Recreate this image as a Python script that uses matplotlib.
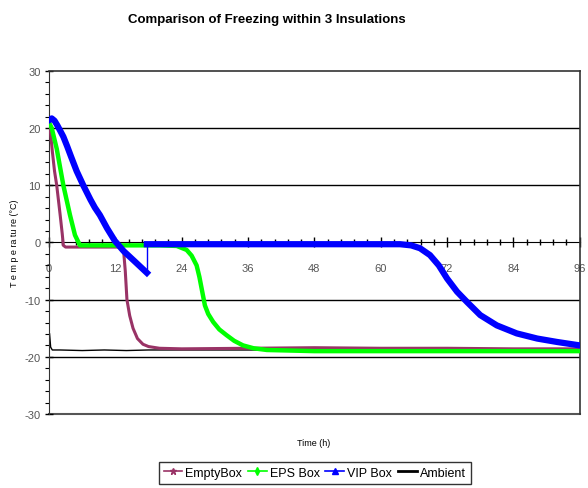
import matplotlib
matplotlib.use("Agg")
import matplotlib.pyplot as plt
from matplotlib.lines import Line2D
from matplotlib.ticker import MultipleLocator

plt.rcParams['font.family'] = ['Liberation Sans', 'DejaVu Sans']
plt.rcParams['axes.unicode_minus'] = False

# values (time in h, temperature in °C)
empty_t = [0, 0.2, 0.6, 1.0, 1.4, 2.0, 2.4, 2.6, 3.0, 6, 10, 13.0, 13.5, 13.8,
           14.1, 14.6, 15.2, 16.0, 17.0, 18.0, 20, 24, 36, 48, 60, 72, 84, 96]
empty_v = [20.5, 20, 16, 12.5, 10, 5, 1.5, -0.5, -0.8, -0.8, -0.8, -0.8, -1.5, -5,
           -10, -12.8, -15, -16.8, -17.8, -18.2, -18.5, -18.6, -18.5, -18.4, -18.5, -18.5, -18.6, -18.6]

eps_t = [0, 0.5, 1.4, 2.6, 3.8, 4.7, 5.6, 8, 12, 16, 20, 23.1, 24.9, 25.8, 26.7, 27.2,
         27.6, 28.2, 28.8, 29.7, 30.8, 32.1, 33.5, 35.1, 37.0, 39.4, 48, 60, 72, 84, 96]
eps_v = [21, 20, 16.4, 10, 4.8, 1.3, -0.5, -0.5, -0.5, -0.5, -0.5, -0.6, -1.3, -2.3, -4, -6,
         -8, -11, -12.5, -13.9, -15.2, -16.2, -17.2, -18, -18.5, -18.8, -19, -19, -19, -19, -19]

vip_t = [0, 0.5, 1.0, 1.5, 2.0, 2.6, 3.3, 4.0, 5.0, 6.2, 7.5, 8.3, 9.2, 10.5, 11.9, 13.5, 15.5, 17.7,
         17.7, 24, 36, 48, 60, 63.5, 65.5, 67.1, 68.9, 70.5, 72.0, 73.8, 75.6, 78.0, 81.0,
         84.6, 88.3, 91.9, 96]
vip_v = [21.4, 21.7, 21.3, 20.5, 19.6, 18.5, 16.8, 15, 12.5, 10, 7.5, 6.1, 4.8, 2.5, 0.3, -1.5, -3.3, -5.3,
         -0.3, -0.3, -0.3, -0.3, -0.3, -0.3, -0.5, -1.0, -2.2, -4.0, -6.3, -8.6, -10.4, -12.7, -14.5,
         -15.9, -16.8, -17.4, -18.0]

amb_t = [0, 0.1, 0.3, 0.6, 2, 6, 10, 14, 18, 24, 48, 72, 96]
amb_v = [-18.5, -15.9, -18.3, -18.8, -18.8, -18.9, -18.8, -18.9, -18.8, -18.8, -18.8, -18.8, -18.8]

x_ticks = [0, 12, 24, 36, 48, 60, 72, 84, 96]
y_ticks = [-30, -20, -10, 0, 10, 20, 30]

fig = plt.figure(figsize=(5.88, 4.89), dpi=100)
ax = fig.add_axes([0.0833, 0.1513, 0.9027, 0.7015])

jump = 18  # index where the VIP curve jumps back to the freezing plateau
ax.plot(amb_t, amb_v, color='black', lw=1.0, zorder=2)
ax.plot(empty_t, empty_v, color='#993366', lw=2.2, zorder=3)
ax.plot(eps_t, eps_v, color='#00ff00', lw=3.2, zorder=4)
ax.plot(vip_t[:jump], vip_v[:jump], color='#0000ff', lw=4.5, zorder=5)
ax.plot(vip_t[jump - 1:jump + 1], vip_v[jump - 1:jump + 1], color='#0000ff', lw=1.0, zorder=5)
ax.plot(vip_t[jump:], vip_v[jump:], color='#0000ff', lw=4.5, zorder=5)

ax.set_xlim(0, 96)
ax.set_ylim(-30, 30)
ax.set_xticks(x_ticks)
ax.set_yticks(y_ticks)
ax.xaxis.set_minor_locator(MultipleLocator(2.4))
ax.yaxis.set_minor_locator(MultipleLocator(2))

for y in [-20, -10, 10, 20]:
    ax.axhline(y, color='black', lw=1.0, zorder=1)
ax.axhline(-30, color='#555555', lw=1.5, zorder=1, clip_on=False)

ax.spines['bottom'].set_position(('data', 0))
ax.spines['bottom'].set_zorder(1)
for s in ['top', 'right']:
    ax.spines[s].set_color('#333333')
    ax.spines[s].set_linewidth(1.2)
ax.spines['left'].set_color('#333333')

ax.tick_params(axis='x', which='major', direction='inout', length=7, width=1,
               pad=11, labelsize=8, labelcolor='#555555')
ax.tick_params(axis='x', which='minor', direction='inout', length=5, width=1)
ax.tick_params(axis='y', which='major', direction='inout', length=6, width=1,
               pad=3, labelsize=8, labelcolor='#555555')
ax.tick_params(axis='y', which='minor', direction='out', length=3, width=0.8)

ax.set_ylabel('T e m p e ra tu re (°C)', fontsize=6.5, labelpad=4)
fig.text(0.534, 0.094, 'Time (h)', ha='center', va='center', fontsize=6.5)
fig.text(0.453, 0.96, 'Comparison of Freezing within 3 Insulations',
         ha='center', va='center', fontsize=9.5, fontweight='bold')

handles = [
    Line2D([], [], color='#993366', lw=1.2, marker='*', markersize=5),
    Line2D([], [], color='#00ff00', lw=1.2, marker='d', markersize=4),
    Line2D([], [], color='#0000ff', lw=1.2, marker='^', markersize=4),
    Line2D([], [], color='black', lw=2),
]
labels = ['EmptyBox', 'EPS Box', 'VIP Box', 'Ambient']
leg = fig.legend(handles, labels, loc='upper center', bbox_to_anchor=(0.535, 0.054),
                 ncol=4, fontsize=9, frameon=True, fancybox=False, edgecolor='black',
                 handlelength=1.5, handletextpad=0.25, columnspacing=0.45,
                 borderpad=0.4, borderaxespad=0)
leg.get_frame().set_linewidth(1.0)

fig.savefig('out.png', dpi=100)
